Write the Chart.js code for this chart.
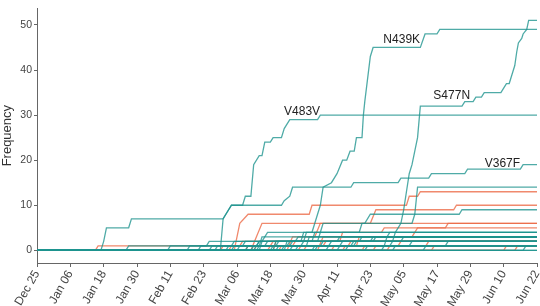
<!DOCTYPE html>
<html>
<head>
<meta charset="utf-8">
<script src="https://cdn.jsdelivr.net/npm/chart.js@4.4.1/dist/chart.umd.min.js"></script>
<style>
  html, body { margin: 0; padding: 0; background: #fff; }
  canvas { display: block; }
</style>
</head>
<body>
<canvas id="freqChart" width="540" height="306"></canvas>
<script>
'use strict';

// x axis: days since Dec 25, one tick every 12 days
const xTickDays = [0, 12, 24, 36, 48, 60, 72, 84, 96, 108, 120, 132, 144, 156, 168, 180];
const xTickLabels = ['Dec 25', 'Jan 06', 'Jan 18', 'Jan 30', 'Feb 11', 'Feb 23', 'Mar 06', 'Mar 18',
    'Mar 30', 'Apr 11', 'Apr 23', 'May 05', 'May 17', 'May 29', 'Jun 10', 'Jun 22'];
const yTickValues = [0, 10, 20, 30, 40, 50];

// labelled mutations: [day, frequency]
const v483v = [[0, 0], [66, 0], [67, 7], [70, 10], [74, 10], [75, 12], [77, 12], [78, 19], [80, 21], [81, 21],
    [82, 24], [84, 24], [85, 25], [88, 25], [89, 27], [91, 29], [101, 29], [102, 30], [180, 30]];
const n439k = [[0, 0], [89, 0], [90, 2], [96, 2], [97, 4], [99, 4], [100, 6], [102, 10], [103, 14], [106, 15],
    [108, 17], [110, 20], [111.5, 20], [112.7, 22], [114.2, 22], [115, 25], [117, 25], [117.5, 30], [118, 33],
    [120, 43], [121, 45], [138, 45], [139.7, 48], [144, 48], [145, 49], [180, 49]];
const s477n = [[0, 0], [100, 0], [101, 1], [114, 1], [115, 2], [121, 2], [122, 3], [126, 3], [127, 4], [129, 4],
    [130, 5], [131, 6], [132, 9], [133, 13], [134, 17], [135, 19], [136, 22], [137, 25], [138, 32], [153, 32],
    [154, 33], [157, 33], [158, 34], [160, 34], [161, 35], [167, 35], [168, 36], [169, 37], [170, 37], [171, 39],
    [172, 41], [172.7, 44], [173.3, 46], [174.5, 47], [175, 48], [176.3, 49], [177, 51], [180, 51]];
const v367f = [[0, 0], [23, 0], [24, 2], [25, 5], [33, 5], [34, 7], [67, 7], [68, 8], [70, 10], [88, 10], [89, 11],
    [91, 12], [92, 14], [113, 14], [114, 15], [130, 15], [131, 16], [141, 16], [142, 17], [154, 17], [155, 18],
    [174, 18], [175, 19], [180, 19]];

// other teal mutations
const tealA = [[0, 0], [85, 0], [86, 2], [99, 2], [100, 4], [116, 4], [117, 6], [135, 6], [136, 8], [137, 14], [180, 14]];
const tealB = [[0, 0], [78, 0], [80, 2], [95, 2], [96, 4], [102, 4], [103, 6], [118, 6], [120, 8], [152, 8], [153, 9], [180, 9]];
const tealC = [[0, 0], [32, 0], [33, 1], [61, 1], [62, 2], [180, 2]];
const tealD = [[0, 0], [47, 0], [48, 1], [74, 1], [75, 2], [108, 2], [109, 3], [180, 3]];
const tealE = [[0, 0], [54, 0], [55, 1], [80, 1], [81, 3], [180, 3]];
const tealF = [[0, 0], [62, 0], [63, 1], [90, 1], [91, 2], [128, 2], [129, 4], [180, 4]];
const tealG = [[0, 0], [68, 0], [69, 1], [86, 1], [87, 2], [180, 2]];
const tealH = [[0, 0], [72, 0], [73, 1], [97, 1], [98, 3], [180, 3]];
const tealI = [[0, 0], [77, 0], [78, 1], [105, 1], [106, 2], [180, 2]];
const tealJ = [[0, 0], [80, 0], [81, 2], [83, 4], [180, 4]];
const tealK = [[0, 0], [84, 0], [85, 1], [180, 1]];
const tealL = [[0, 0], [88, 0], [89, 1], [113, 1], [114, 2], [180, 2]];
const tealM = [[0, 0], [93, 0], [94, 1], [125, 1], [126, 3], [180, 3]];
const tealN = [[0, 0], [99, 0], [100, 1], [180, 1]];
const tealO = [[0, 0], [104, 0], [105, 1], [134, 1], [135, 2], [180, 2]];
const tealP = [[0, 0], [111, 0], [112, 1], [180, 1]];
const tealQ = [[0, 0], [118, 0], [119, 1], [147, 1], [148, 2], [180, 2]];
const tealR = [[0, 0], [124, 0], [125, 1], [180, 1]];
const tealS = [[0, 0], [139, 0], [140, 1], [180, 1]];
const tealT = [[0, 0], [175, 0], [176, 1], [180, 1]];
const tealV = [[0, 0], [58, 0], [59, 1], [70, 1], [71, 2], [93, 2], [94, 3], [180, 3]];
const tealW = [[0, 0], [64, 0], [65, 1], [79, 1], [80, 2], [101, 2], [102, 4], [180, 4]];
const tealX = [[0, 0], [70, 0], [71, 1], [82, 1], [83, 2], [116, 2], [117, 3], [180, 3]];
const tealY = [[0, 0], [75, 0], [76, 1], [91, 1], [92, 2], [180, 2]];
const tealZ = [[0, 0], [79, 0], [80, 1], [95, 1], [96, 2], [120, 2], [121, 3], [180, 3]];
const tealAA = [[0, 0], [86, 0], [87, 1], [102, 1], [103, 2], [180, 2]];
const tealAB = [[0, 0], [91, 0], [92, 1], [109, 1], [110, 2], [131, 2], [132, 3], [180, 3]];
const tealAC = [[0, 0], [108, 0], [109, 1], [127, 1], [128, 2], [180, 2]];
const tealAD = [[0, 0], [128, 0], [129, 1], [180, 1]];
const tealZeroA = [[0, 0], [180, 0]];
const tealZeroB = [[0, 0], [180, 0]];

// orange mutations
const orangeA = [[0, 0], [71, 0], [72, 3], [73, 6], [76, 8], [98, 8], [99, 10], [133, 10], [134, 12], [137, 12], [138, 13], [180, 13]];
const orangeB = [[0, 0], [90, 0], [92, 3], [100, 3], [102, 6], [120, 6], [122, 9], [150, 9], [151, 10], [180, 10]];
const orangeC = [[0, 0], [85, 0], [86, 2], [109, 2], [110, 4], [124, 4], [125, 5], [147, 5], [148, 6], [180, 6]];
const orangeD = [[0, 0], [77, 0], [79, 3], [81, 6], [180, 6]];
const orangeE = [[0, 0], [101, 0], [103, 3], [135, 3], [137, 5], [180, 5]];
const orangeF = [[0, 0], [21, 0], [22, 1], [73, 1], [74, 2], [180, 2]];
const orangeG = [[0, 0], [66, 0], [67, 1], [92, 1], [93, 2], [180, 2]];
const orangeH = [[0, 0], [75, 0], [76, 1], [115, 1], [116, 3], [180, 3]];
const orangeI = [[0, 0], [87, 0], [88, 1], [130, 1], [131, 2], [180, 2]];
const orangeJ = [[0, 0], [96, 0], [97, 1], [140, 1], [141, 2], [180, 2]];
const orangeK = [[0, 0], [106, 0], [107, 1], [180, 1]];
const orangeL = [[0, 0], [121, 0], [122, 1], [180, 1]];
const orangeM = [[0, 0], [142, 0], [143, 1], [180, 1]];
const orangeN = [[0, 0], [168, 0], [169, 1], [180, 1]];
const orangeO = [[0, 0], [172, 0], [173, 1], [180, 1]];
const orangeP = [[0, 0], [69, 0], [70, 1], [84, 1], [85, 2], [180, 2]];
const orangeQ = [[0, 0], [78, 0], [79, 1], [103, 1], [104, 2], [180, 2]];
const orangeR = [[0, 0], [83, 0], [84, 1], [112, 1], [113, 2], [180, 2]];
const orangeS = [[0, 0], [94, 0], [95, 1], [180, 1]];
const orangeT = [[0, 0], [110, 0], [111, 1], [180, 1]];
const orangeU = [[0, 0], [117, 0], [118, 1], [180, 1]];
const orangeV = [[0, 0], [126, 0], [127, 1], [180, 1]];

// Chart.js paints the first dataset on top, so zero lines and teal come first
const tealSeries = [tealZeroA, tealZeroB, s477n, n439k, v483v, v367f, tealA, tealB, tealC, tealD, tealE,
    tealF, tealG, tealH, tealI, tealJ, tealK, tealL, tealM, tealN, tealO, tealP, tealQ, tealR, tealS, tealT,
    tealV, tealW, tealX, tealY, tealZ, tealAA, tealAB, tealAC, tealAD];
const orangeSeries = [orangeA, orangeB, orangeC, orangeD, orangeE, orangeF, orangeG, orangeH, orangeI,
    orangeJ, orangeK, orangeL, orangeM, orangeN, orangeO, orangeP, orangeQ, orangeR, orangeS, orangeT,
    orangeU, orangeV];

// text labels: name, day at right edge of text, frequency at baseline
const labelNames = ['N439K', 'S477N', 'V483V', 'V367F'];
const labelDays = [137.9, 155.9, 101.9, 173.9];
const labelValues = [46, 33.5, 30.1, 18.5];

const TEAL = 'rgba(30, 148, 142, 0.78)';
const ORANGE = 'rgba(236, 104, 68, 0.78)';

function toDataset(series, color) {
    return {
        data: series.map(([x, y]) => ({ x, y })),
        borderColor: color,
        borderWidth: 1.3,
        pointRadius: 0,
        tension: 0,
        fill: false
    };
}

const mutationLabels = {
    id: 'mutationLabels',
    afterDatasetsDraw(chart) {
        const { ctx, scales } = chart;
        ctx.save();
        ctx.font = '12px "Liberation Sans", Arial, sans-serif';
        ctx.fillStyle = '#222';
        ctx.textAlign = 'right';
        ctx.textBaseline = 'alphabetic';
        labelNames.forEach((name, i) => {
            ctx.fillText(name, scales.x.getPixelForValue(labelDays[i]), scales.y.getPixelForValue(labelValues[i]));
        });
        ctx.restore();
    }
};

const datasets = [
    ...tealSeries.map((s) => toDataset(s, TEAL)),
    ...orangeSeries.map((s) => toDataset(s, ORANGE))
];

new Chart(document.getElementById('freqChart'), {
    type: 'line',
    data: { datasets },
    options: {
        responsive: false,
        animation: false,
        layout: { padding: { top: 2, right: 3, left: 0, bottom: 0 } },
        plugins: {
            legend: { display: false },
            tooltip: { enabled: false }
        },
        scales: {
            x: {
                type: 'linear',
                min: 0,
                max: 180,
                afterBuildTicks: (scale) => {
                    scale.ticks = xTickDays.map((value) => ({ value }));
                },
                afterFit: (scale) => {
                    scale.height = 43;
                    scale.paddingLeft = 0;
                    scale.paddingRight = 0;
                },
                border: { display: true, color: '#666', width: 1 },
                grid: { drawOnChartArea: false, drawTicks: true, tickLength: 4, color: '#666' },
                ticks: {
                    autoSkip: false,
                    minRotation: 60,
                    maxRotation: 60,
                    padding: 1,
                    color: '#444',
                    font: { family: '"Liberation Sans", Arial, sans-serif', size: 12 },
                    callback: (value, index) => xTickLabels[index]
                }
            },
            y: {
                min: -2.81,
                max: 53.69,
                afterBuildTicks: (scale) => {
                    scale.ticks = yTickValues.map((value) => ({ value }));
                },
                afterFit: (scale) => {
                    scale.width = 37;
                },
                border: { display: true, color: '#666', width: 1 },
                grid: { drawOnChartArea: false, drawTicks: true, tickLength: 3, color: '#666' },
                ticks: {
                    padding: 2,
                    color: '#444',
                    font: { family: '"Liberation Sans", Arial, sans-serif', size: 10.5 }
                },
                title: {
                    display: true,
                    text: 'Frequency',
                    color: '#333',
                    padding: { top: 0, bottom: 0 },
                    font: { family: '"Liberation Sans", Arial, sans-serif', size: 13 }
                }
            }
        }
    },
    plugins: [mutationLabels]
});
</script>
</body>
</html>
